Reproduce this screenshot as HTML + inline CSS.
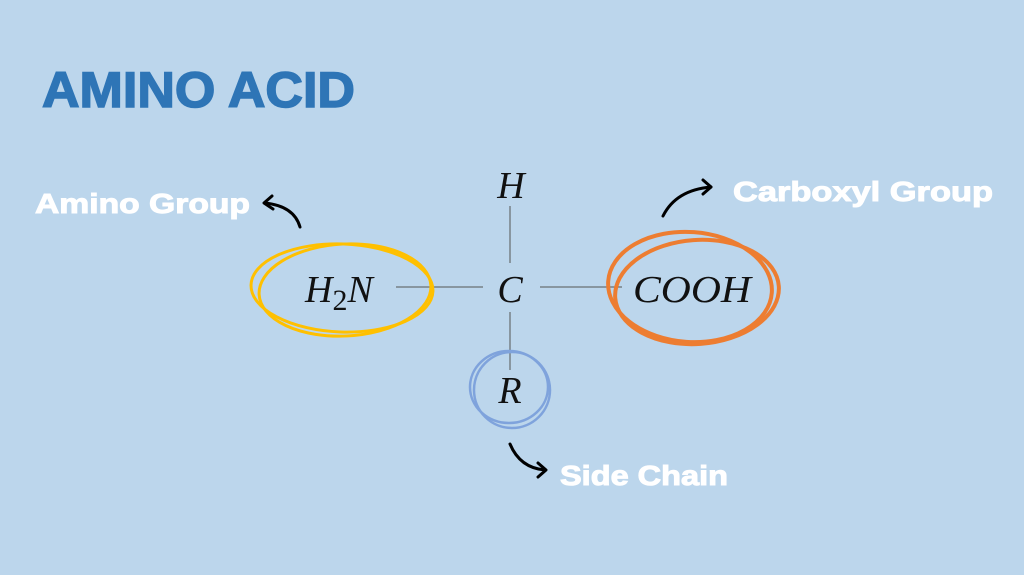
<!DOCTYPE html>
<html><head><style>
html,body{margin:0;padding:0;background:#bcd6ec;}
svg{display:block}
</style></head><body>
<svg width="1024" height="575" viewBox="0 0 1024 575" xmlns="http://www.w3.org/2000/svg">
<rect width="1024" height="575" fill="#bcd6ec"/>
<text x="42" y="107" font-family="Liberation Sans, sans-serif" font-weight="bold" font-size="50" fill="#2e75b6" stroke="#2e75b6" stroke-width="1.5" textLength="313" lengthAdjust="spacingAndGlyphs">AMINO ACID</text>
<g font-family="Liberation Sans, sans-serif" font-weight="bold" fill="#fff" stroke="#fff" stroke-width="1">
<text x="35" y="213" font-size="28" textLength="215" lengthAdjust="spacingAndGlyphs">Amino Group</text>
<text x="733" y="201" font-size="28" textLength="260" lengthAdjust="spacingAndGlyphs">Carboxyl Group</text>
<text x="560" y="485" font-size="28" textLength="168" lengthAdjust="spacingAndGlyphs">Side Chain</text>
</g>
<g stroke="#555" stroke-width="1">
<line x1="396" y1="287" x2="483" y2="287"/>
<line x1="540" y1="287" x2="622" y2="287"/>
<line x1="510" y1="206" x2="510" y2="263"/>
<line x1="510" y1="312" x2="510" y2="370"/>
</g>
<g font-family="Liberation Serif, serif" font-style="italic" font-size="38" fill="#111" text-anchor="middle">
<text x="511" y="198">H</text>
<text x="510" y="302">C</text>
<text x="510" y="403">R</text>
<text x="692" y="302" textLength="118" lengthAdjust="spacingAndGlyphs">COOH</text>
<text x="305" y="302" text-anchor="start">H<tspan font-size="30" dy="8" font-style="normal">2</tspan><tspan dy="-8">N</tspan></text>
</g>
<g fill="none" stroke="#ffc000" stroke-width="3">
<ellipse cx="342" cy="288" rx="91" ry="44" transform="rotate(2 342 288)"/>
<ellipse cx="345" cy="290" rx="86" ry="46" transform="rotate(-3 345 290)"/>
</g>
<g fill="none" stroke="#ed7d31" stroke-width="4">
<ellipse cx="690" cy="287" rx="82" ry="55" transform="rotate(4 690 287)"/>
<ellipse cx="697" cy="292" rx="82" ry="52" transform="rotate(-4 697 292)"/>
</g>
<g fill="none" stroke="#7fa3dc" stroke-width="2.5">
<circle cx="512" cy="390" r="38"/>
<ellipse cx="509" cy="387" rx="39" ry="36"/>
</g>
<g fill="none" stroke="#000" stroke-width="3" stroke-linecap="round" stroke-linejoin="round">
<path d="M300 227 Q294 206 265 203"/>
<path d="M272 196 L264 203 L273 209"/>
<path d="M663 216 Q676 190 711 187"/>
<path d="M703 180 L711 187 L703 194"/>
<path d="M510 444 Q520 468 545 470"/>
<path d="M538 463 L546 470 L538 477"/>
</g>
</svg>
</body></html>
